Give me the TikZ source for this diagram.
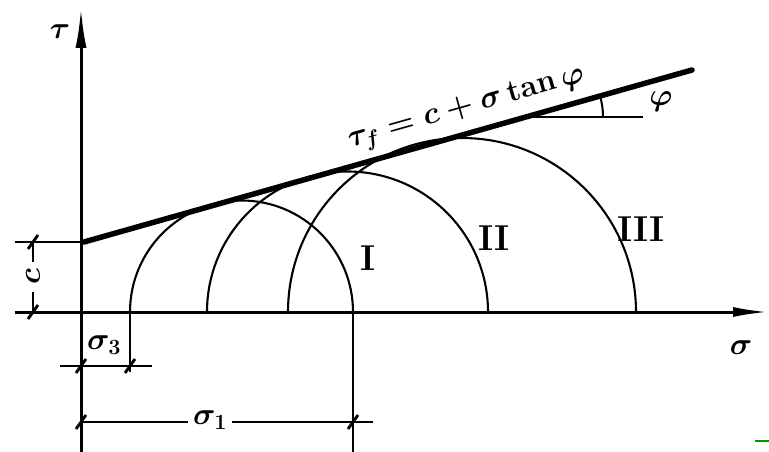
\RequirePackage{fix-cm}
\documentclass[tikz,border=0pt]{standalone}
\usetikzlibrary{arrows.meta}
\begin{document}
\begin{tikzpicture}[x=1pt,y=-1pt,
  axis/.style={line width=3pt},
  env/.style={line width=5.5pt,line cap=round},
  circ/.style={line width=2.1pt},
  dim/.style={line width=2pt},
  tickmark/.style={line width=2.8pt},
  lbl/.style={font=\fontsize{31}{35}\selectfont\boldmath, inner sep=0pt},
  rom/.style={font=\fontsize{36}{40}\selectfont\bfseries, inner sep=0pt}]
\useasboundingbox (0,0) rectangle (769,452);
% key points
\coordinate (O) at (81,312);
\coordinate (C) at (81,242);
\coordinate (Ttop) at (81,8);
\coordinate (Tbot) at (81,452);
\coordinate (Sleft) at (15,312);
\coordinate (Sright) at (769,312);
\coordinate (Cleft) at (15,242);
\coordinate (Estart) at (84,242);
\coordinate (Eend) at (692,70);
\coordinate (S3) at (130,312);
\coordinate (S1) at (353,312);
% axes
\draw[axis,-{Latex[length=40pt,width=11pt]}] (Tbot) -- (Ttop);
\draw[axis,-{Latex[length=36pt,width=10pt]}] (Sleft) -- (Sright);
\node[lbl] (tau) at (60,32) {$\tau$};
\node[lbl] (sig) at (741,348) {$\sigma$};
% envelope
\draw[env] (Estart) -- node[pos=0.64, sloped, above=7pt, lbl] (formula) {$\tau_f = c + \sigma\tan\varphi$} (Eend);
% circles
\draw[circ] (S3) arc (180:360:111.5);
\draw[circ] (207,312) arc (180:360:140.5);
\draw[circ] (288,312) arc (180:360:174);
\node[rom] (r1) at (368,258) {I};
\node[rom] (r2) at (494,238) {II};
\node[rom] (r3) at (641,229) {III};
% phi angle
\coordinate (Pa) at (526,117);
\coordinate (Pb) at (643,117);
\draw[dim] (Pa) -- (Pb);
\draw[dim] (603,117) arc (0:-15.8:77);
\node[lbl] (phi) at (661,102) {$\varphi$};
% c dimension
\draw[dim] (Cleft) -- (C);
\draw[dim] (33,242) -- (33,262);
\draw[dim] (33,292) -- (33,312);
\node[lbl, rotate=90] (clab) at (33,277) {$c$};
\draw[tickmark] (33,242) ++(-5,7) -- ++(10,-14);
\draw[tickmark] (33,312) ++(-5,7) -- ++(10,-14);
% sigma3 dimension
\draw[dim] (S3) -- (130,372);
\draw[dim] (60,366) -- (152,366);
\draw[tickmark] (81,366) ++(-5,7) -- ++(10,-14);
\draw[tickmark] (130,366) ++(-5,7) -- ++(10,-14);
\node[lbl] (s3) at (104,345) {$\sigma_3$};
% sigma1 dimension
\draw[dim] (S1) -- (353,452);
\draw[dim] (81,422) -- (188,422);
\draw[dim] (232,422) -- (373,422);
\draw[tickmark] (81,422) ++(-5,7) -- ++(10,-14);
\draw[tickmark] (353,422) ++(-5,7) -- ++(10,-14);
\node[lbl] (s1) at (210,420) {$\sigma_1$};
% stray mark
\draw[line width=1.2pt, green!60!black] (755,441) -- (769,441);
\end{tikzpicture}
\end{document}
